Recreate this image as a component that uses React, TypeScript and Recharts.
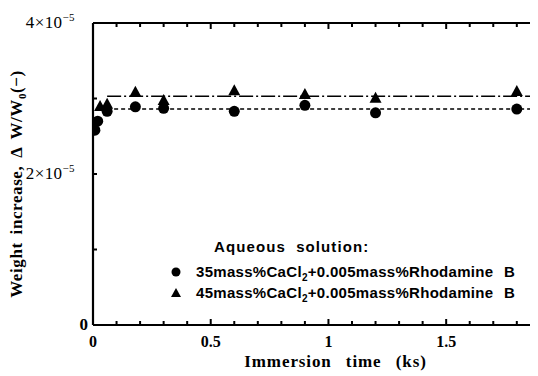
import { ComposedChart, XAxis, YAxis, Scatter, Line, Legend, ReferenceLine } from 'recharts';

// weight gain ΔW/W0 vs immersion time (ks)
const TIME_35 = [0.008, 0.02, 0.06, 0.18, 0.3, 0.6, 0.9, 1.2, 1.8];
const GAIN_35 = [2.58e-5, 2.7e-5, 2.83e-5, 2.89e-5, 2.87e-5, 2.83e-5, 2.91e-5, 2.81e-5, 2.86e-5];
const TIME_45 = [0.03, 0.06, 0.18, 0.3, 0.6, 0.9, 1.2, 1.8];
const GAIN_45 = [2.9e-5, 2.93e-5, 3.09e-5, 2.98e-5, 3.11e-5, 3.06e-5, 3.01e-5, 3.1e-5];

// plateau levels
const FIT_TIME = [0.06, 1.89];
const FIT_35 = [2.86e-5, 2.86e-5];
const FIT_45 = [3.03e-5, 3.03e-5];

const NAME_35 = '35mass%CaCl2+0.005mass%Rhodamine B';
const NAME_45 = '45mass%CaCl2+0.005mass%Rhodamine B';

const X_MAX = 1.89;
const Y_MAX = 4e-5;
const X_LABELS = [0, 0.5, 1, 1.5];
const X_TICKS = [0.1, 0.2, 0.3, 0.4, 0.5, 0.6, 0.7, 0.8, 0.9, 1, 1.1, 1.2, 1.3, 1.4, 1.5, 1.6, 1.7, 1.8];
const Y_LABELS = [0, 2e-5, 4e-5];
const Y_TICKS = [0, 1e-5, 2e-5, 3e-5, 4e-5];

const SERIF = '"Liberation Serif", "Times New Roman", serif';
const SANS = '"Liberation Sans", Arial, sans-serif';

const pts = (xs: number[], ys: number[]) => xs.map((t, i) => ({ t, y: ys[i] }));
const s35 = pts(TIME_35, GAIN_35);
const s45 = pts(TIME_45, GAIN_45);
const f35 = pts(FIT_TIME, FIT_35);
const f45 = pts(FIT_TIME, FIT_45);

const isLabeled = (list: number[], v: number) => list.some((l) => Math.abs(l - v) < 1e-9);

const Dot = ({ cx, cy }: any) => <circle cx={cx} cy={cy} r={5.5} fill="#000" />;
const Tri = ({ cx, cy }: any) => (
  <polygon points={`${cx},${cy - 6} ${cx - 6},${cy + 5} ${cx + 6},${cy + 5}`} fill="#000" />
);

// short inward marks at both ends of a vertical reference line (top frame + bottom axis)
const tickPair = (len: number) => (props: any) => {
  const { x1, y1, y2 } = props;
  const top = Math.min(y1, y2);
  const bottom = Math.max(y1, y2);
  return (
    <g>
      <line x1={x1} x2={x1} y1={top} y2={top + len} stroke="#000" strokeWidth={2} />
      <line x1={x1} x2={x1} y1={bottom} y2={bottom - len} stroke="#000" strokeWidth={2} />
    </g>
  );
};

const X_MARGIN = 10;
const BottomLabel = (props: any) => {
  const { x, y, payload } = props;
  return (
    <text x={x} y={y + 12} textAnchor="middle" fontFamily={SERIF} fontSize={16} fontWeight="bold" fill="#000">
      {payload.value}
    </text>
  );
};

const Y_MARGIN = 18;
const LeftTick = (props: any) => {
  const { x, y, payload } = props;
  const v = payload.value;
  const base = x + Y_MARGIN;
  const tickMark = v > 0 && v < Y_MAX ? <line x1={base} x2={base + 4} y1={y} y2={y} stroke="#000" strokeWidth={2} /> : null;
  if (!isLabeled(Y_LABELS, v)) return <g>{tickMark}</g>;
  if (v === 0) {
    return (
      <text x={x + 13} y={y + 5} textAnchor="end" fontFamily={SERIF} fontSize={17} fontWeight="bold" fill="#000">0</text>
    );
  }
  return (
    <g>
      {tickMark}
      <text x={x} y={y + 5} textAnchor="end" fontFamily={SERIF} fontSize={17} letterSpacing={0.4} fill="#000">
        <tspan>{Math.round(v / 1e-5)}×10</tspan>
        <tspan dy={-7} fontSize={11}>−5</tspan>
      </text>
    </g>
  );
};

const XTitle = ({ viewBox }: any) => (
  <text
    x={viewBox.x + viewBox.width / 2 + 20}
    y={viewBox.y + 42}
    textAnchor="middle"
    fontFamily={SERIF}
    fontSize={17}
    fontWeight="bold"
    letterSpacing={0.9}
    wordSpacing={9}
    fill="#000"
  >
    Immersion time (ks)
  </text>
);

const YTitle = () => {
  const cx = 14;
  const cy = 176;
  return (
    <text x={cx} y={cy} transform={`rotate(-90, ${cx}, ${cy})`} textAnchor="middle" fontFamily={SERIF} fontSize={17} fontWeight="bold" letterSpacing={0.6} wordSpacing={3} fill="#000">
      <tspan>Weight increase, Δ W/W</tspan>
      <tspan dy={4} fontSize={11}>0</tspan>
      <tspan dy={-4}>(−)</tspan>
    </text>
  );
};

const withSub = (name: string) => {
  const [a, b] = name.split('Cl2');
  return (
    <>
      {a}Cl<sub style={{ fontSize: 10, lineHeight: 0 }}>2</sub>{b}
    </>
  );
};

const renderLegend = (props: any) => {
  const items = (props.payload || []).filter((p: any) => p.type !== 'none');
  return (
    <div style={{ fontFamily: SANS, fontSize: 15, fontWeight: 'bold', color: '#000', letterSpacing: 0.3 }}>
      <div style={{ paddingLeft: 46, wordSpacing: 5, letterSpacing: 1.1, height: 25, lineHeight: '21px' }}>Aqueous solution:</div>
      {items.map((p: any) => (
        <div key={p.value} style={{ display: 'flex', alignItems: 'center', whiteSpace: 'nowrap', height: 21 }}>
          <svg width={28} height={14}>
            {p.type === 'triangle' ? (
              <polygon points="8,2 3,11 13,11" fill="#000" />
            ) : (
              <circle cx={8} cy={7} r={4.5} fill="#000" />
            )}
          </svg>
          <span style={{ wordSpacing: 6, lineHeight: '21px' }}>{withSub(p.value)}</span>
        </div>
      ))}
    </div>
  );
};

export default function App() {
  return (
    <div style={{ width: 530, height: 368, position: 'relative' }}>
      <ComposedChart width={530} height={368} margin={{ top: 15, right: 0, bottom: 0, left: 0 }}>
        <XAxis
          dataKey="t"
          type="number"
          domain={[0, X_MAX]}
          ticks={X_LABELS}
          interval={0}
          allowDataOverflow
          height={51}
          tickLine={false}
          tickSize={0}
          tickMargin={X_MARGIN}
          axisLine={{ stroke: '#000', strokeWidth: 2.2 }}
          tick={BottomLabel}
          label={XTitle}
        />
        <YAxis
          type="number"
          domain={[0, Y_MAX]}
          ticks={Y_TICKS}
          interval={0}
          width={85}
          tickLine={false}
          tickSize={0}
          tickMargin={Y_MARGIN}
          axisLine={{ stroke: '#000', strokeWidth: 2.2 }}
          tick={LeftTick}
          label={YTitle}
        />
        {/* top frame */}
        <ReferenceLine y={Y_MAX} stroke="#000" strokeWidth={2.2} />
        {X_TICKS.map((v) => (
          <ReferenceLine key={v} x={v} shape={tickPair(isLabeled(X_LABELS, v) ? 6 : 4)} />
        ))}
        <Legend layout="horizontal" verticalAlign="middle" align="center" content={renderLegend} wrapperStyle={{ position: 'absolute', left: 160, top: 228, width: 'auto', height: 'auto' }} />
        <Line data={f45} dataKey="y" type="linear" stroke="#000" strokeWidth={1.6} strokeDasharray="14 3 2 3" dot={false} legendType="none" isAnimationActive={false} />
        <Line data={f35} dataKey="y" type="linear" stroke="#000" strokeWidth={1.6} strokeDasharray="4 3" dot={false} legendType="none" isAnimationActive={false} />
        <Scatter name={NAME_35} data={s35} dataKey="y" shape={Dot} legendType="circle" isAnimationActive={false} />
        <Scatter name={NAME_45} data={s45} dataKey="y" shape={Tri} legendType="triangle" isAnimationActive={false} />
      </ComposedChart>
    </div>
  );
}
